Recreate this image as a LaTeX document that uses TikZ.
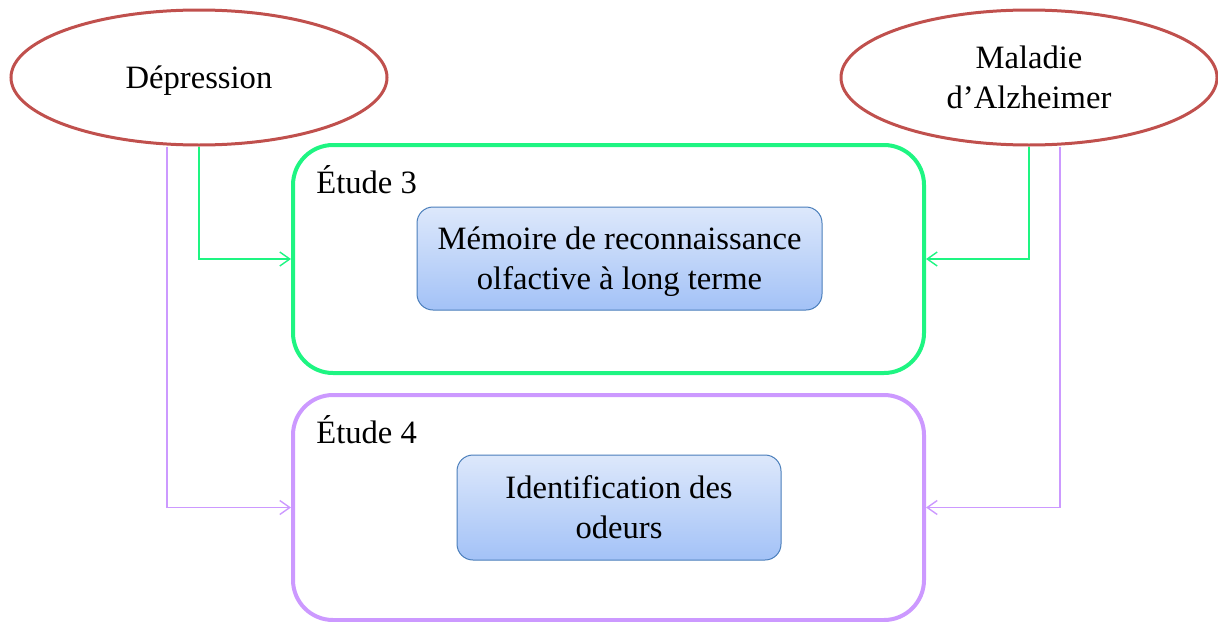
\documentclass[tikz,border=0pt]{standalone}
\usepackage{fontspec}
\setmainfont{Liberation Serif}
\usepackage{tikz}
\usetikzlibrary{shapes.geometric}
\usetikzlibrary{arrows.meta}
\definecolor{maladie}{HTML}{C0504D}
\definecolor{vert3}{HTML}{1EF582}
\definecolor{violet4}{HTML}{CC99FF}
\definecolor{bleuhaut}{HTML}{DDE8FB}
\definecolor{bleubas}{HTML}{A3C2F7}
\definecolor{bleubord}{HTML}{4A7EBB}

\begin{document}
\begin{tikzpicture}[x=0.5pt, y=-0.5pt,
    font=\fontsize{16.3}{20}\selectfont,
    cause/.style={ellipse, draw=maladie, line width=1.5pt, minimum width=188pt, minimum height=67.5pt, align=center, inner sep=0pt, text depth=0pt},
    etude/.style={rectangle, rounded corners=20pt, line width=2pt, minimum width=315.5pt},
    tache/.style={rectangle, rounded corners=8pt, draw=bleubord, line width=0.5pt, top color=bleuhaut, bottom color=bleubas, align=center, inner sep=0pt, text depth=0pt},
    lien/.style={line width=0.7pt, -{Straight Barb[length=5pt, width=7pt]}}]
\useasboundingbox (0,0) rectangle (1218,621);

% causes
\node[cause] (dep) at (199,77.5) {Dépression};
\node[cause] (alz) at (1029,77.5) {Maladie\\d’Alzheimer};

% etudes
\node[etude, draw=vert3, minimum height=114pt] (etude3) at (608.5,259) {};
\node[etude, draw=violet4, minimum height=112.5pt] (etude4) at (608.5,507.5) {};
\node[anchor=base west, inner sep=0pt] (lab3) at (316,193) {Étude 3};
\node[anchor=base west, inner sep=0pt] (lab4) at (316,443) {Étude 4};

\node[tache, minimum width=202.5pt, minimum height=51.5pt] (memoire) at (619.5,258.5) {Mémoire de reconnaissance\\olfactive à long terme};
\node[tache, minimum width=162pt, minimum height=52.5pt] (odeurs) at (619,507.5) {Identification des\\odeurs};

% liens
\draw[lien, vert3] (dep.south) |- (etude3.west);
\draw[lien, violet4] ([xshift=-16pt]dep.south) |- (etude4.west);
\draw[lien, vert3] (alz.south) |- (etude3.east);
\draw[lien, violet4] ([xshift=15.5pt]alz.south) |- (etude4.east);
\end{tikzpicture}
\end{document}
